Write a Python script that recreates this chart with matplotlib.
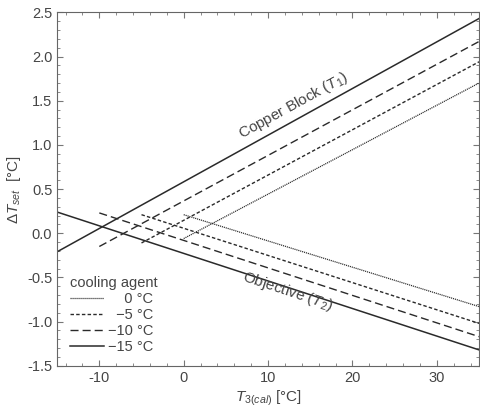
import numpy as np
import matplotlib.pyplot as plt
from matplotlib.ticker import MultipleLocator

plt.rcParams['font.family'] = ['Liberation Sans', 'DejaVu Sans']
plt.rcParams['mathtext.fontset'] = 'custom'
plt.rcParams['mathtext.it'] = 'Liberation Sans:italic'
plt.rcParams['mathtext.rm'] = 'Liberation Sans'
plt.rcParams['axes.unicode_minus'] = False

# cooling agent temperatures and straight line end points
agents = ['\u2007\u20070 °C', '\u2007\u22125 °C', '\u221210 °C', '\u221215 °C']
x_start = [0, -5, -10, -15]
x_end = [35, 35, 35, 35]
copper_start = [-0.06, -0.11, -0.15, -0.21]
copper_end = [1.70, 1.94, 2.17, 2.43]
objective_start = [0.21, 0.21, 0.23, 0.24]
objective_end = [-0.83, -1.02, -1.17, -1.32]

styles = [(0, (0.9, 0.7)), (0, (2.5, 1.6)), (0, (5.8, 2.9)), '-']
widths = [0.9, 1.0, 1.0, 1.1]
col = '#2a2a2a'
txt = '#454545'

fig = plt.figure(figsize=(4.8, 4.11), dpi=100)
ax = fig.add_axes([0.119, 0.110, 0.879, 0.860])

for i in range(len(agents)):
    xs = [x_start[i], x_end[i]]
    ax.plot(xs, [copper_start[i], copper_end[i]], color=col, ls=styles[i], lw=widths[i], label=agents[i])
    ax.plot(xs, [objective_start[i], objective_end[i]], color=col, ls=styles[i], lw=widths[i])

ax.set_xlim(-15, 35)
ax.set_ylim(-1.5, 2.5)
ax.xaxis.set_major_locator(MultipleLocator(10))
ax.xaxis.set_minor_locator(MultipleLocator(2))
ax.yaxis.set_major_locator(MultipleLocator(0.5))
ax.yaxis.set_minor_locator(MultipleLocator(0.1))
ax.yaxis.set_major_formatter(plt.FuncFormatter(lambda v, p: '%.1f' % v))
ax.tick_params(which='both', direction='in', top=True, right=True, colors='#777777',
               labelcolor=txt, labelsize=10.5)
ax.tick_params(which='major', length=4, width=0.8)
ax.tick_params(which='minor', length=2, width=0.6)
for s in ax.spines.values():
    s.set_color('#666666')
    s.set_linewidth(0.8)

ax.set_xlabel(r'$T_{3(cal)}$ [°C]', color=txt, fontsize=11, labelpad=3)
ax.set_ylabel(r'$\Delta T_{set}$  [°C]', color=txt, fontsize=11, labelpad=3)

ax.text(13.0, 1.45, r'Copper Block ($T_1$)', rotation=28.8, rotation_mode='anchor',
        ha='center', va='center', color=txt, fontsize=11)
ax.text(12.3, -0.66, r'Objective ($T_2$)', rotation=-18.5, rotation_mode='anchor',
        ha='center', va='center', color=txt, fontsize=11)

leg = ax.legend(title='cooling agent', loc='lower left', bbox_to_anchor=(0.0, -0.005),
                frameon=False, fontsize=10.5, title_fontsize=10.5, handlelength=2.3,
                handletextpad=0.3, labelspacing=0.15, alignment='left')
for t in leg.get_texts():
    t.set_color(txt)
leg.get_title().set_color(txt)

fig.savefig('out.png', dpi=100)
